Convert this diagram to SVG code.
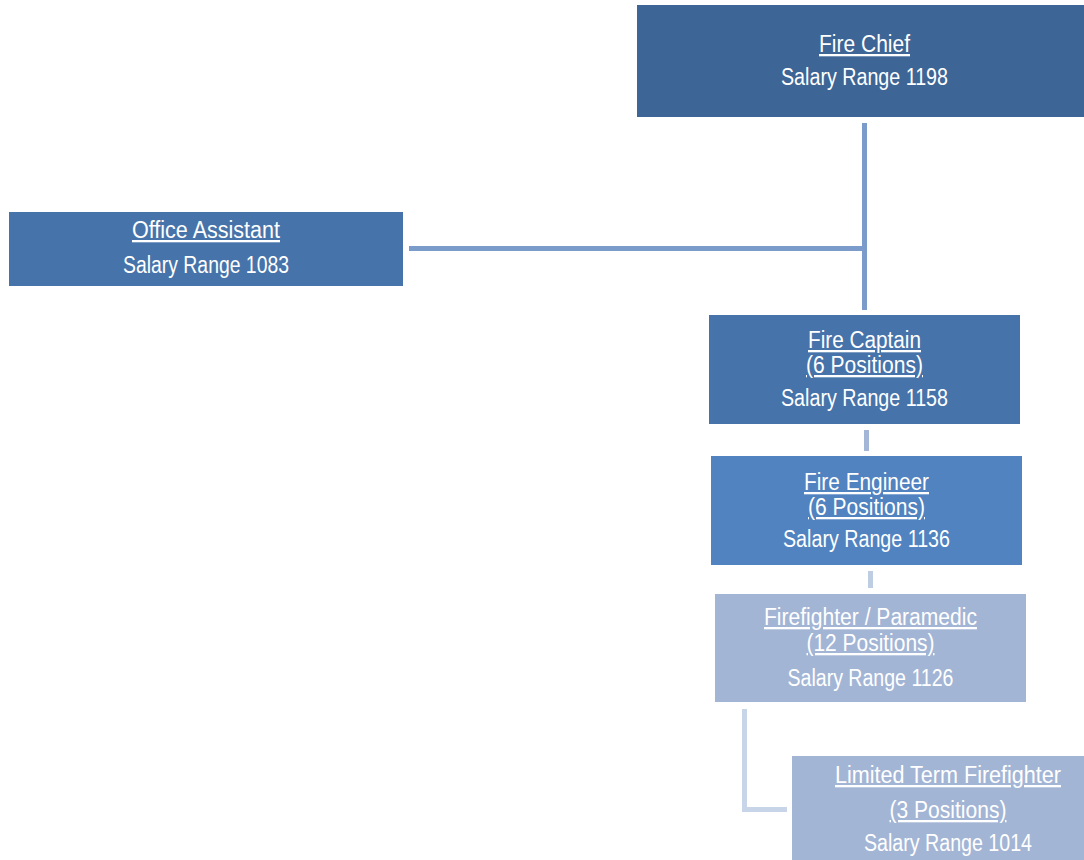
<svg xmlns="http://www.w3.org/2000/svg" width="1084" height="860" viewBox="0 0 1084 860">
<style>
text{font-family:"Liberation Sans",Arial,sans-serif;font-size:23px;fill:#ffffff;text-anchor:middle}
.t{text-decoration:underline}
.c{fill:none;stroke-width:5}
</style>
<rect width="1084" height="860" fill="#ffffff"/>
<g id="connectors">
<path class="c" d="M864.5 123V310M409 248.5H864.5" stroke="#7B9BCB"/>
<path class="c" d="M866.5 430V451" stroke="#A3B6D6"/>
<path class="c" d="M870.5 571V588" stroke="#BFCDE3"/>
<path class="c" d="M744.5 709V809.5H787" stroke="#C8D4E8"/>
</g>
<g id="fire-chief">
<rect x="637" y="5" width="460" height="112" fill="#3D6596"/>
<text class="t" x="864.5" y="52" textLength="91" lengthAdjust="spacingAndGlyphs">Fire Chief</text>
<text x="864.5" y="85" textLength="167" lengthAdjust="spacingAndGlyphs">Salary Range 1198</text>
</g>
<g id="office-assistant">
<rect x="9" y="212" width="394" height="74" fill="#4674AA"/>
<text class="t" x="206" y="238" textLength="148" lengthAdjust="spacingAndGlyphs">Office Assistant</text>
<text x="206" y="273" textLength="166" lengthAdjust="spacingAndGlyphs">Salary Range 1083</text>
</g>
<g id="fire-captain">
<rect x="709" y="315" width="311" height="109" fill="#4673AA"/>
<text class="t" x="864.5" y="348" textLength="113" lengthAdjust="spacingAndGlyphs">Fire Captain</text>
<text class="t" x="864.5" y="373" textLength="117" lengthAdjust="spacingAndGlyphs">(6 Positions)</text>
<text x="864.5" y="406" textLength="167" lengthAdjust="spacingAndGlyphs">Salary Range 1158</text>
</g>
<g id="fire-engineer">
<rect x="711" y="456" width="311" height="109" fill="#5083C0"/>
<text class="t" x="866.5" y="490" textLength="125" lengthAdjust="spacingAndGlyphs">Fire Engineer</text>
<text class="t" x="866.5" y="515" textLength="117" lengthAdjust="spacingAndGlyphs">(6 Positions)</text>
<text x="866.5" y="547" textLength="167" lengthAdjust="spacingAndGlyphs">Salary Range 1136</text>
</g>
<g id="firefighter-paramedic">
<rect x="715" y="594" width="311" height="108" fill="#A3B5D5"/>
<text class="t" x="870.5" y="625" textLength="213" lengthAdjust="spacingAndGlyphs">Firefighter / Paramedic</text>
<text class="t" x="870.5" y="651" textLength="128" lengthAdjust="spacingAndGlyphs">(12 Positions)</text>
<text x="870.5" y="686" textLength="166" lengthAdjust="spacingAndGlyphs">Salary Range 1126</text>
</g>
<g id="limited-term-firefighter">
<rect x="792" y="756" width="320" height="110" fill="#A3B5D5"/>
<text class="t" x="948" y="783" textLength="226" lengthAdjust="spacingAndGlyphs">Limited Term Firefighter</text>
<text class="t" x="948" y="818" textLength="117" lengthAdjust="spacingAndGlyphs">(3 Positions)</text>
<text x="948" y="851" textLength="168" lengthAdjust="spacingAndGlyphs">Salary Range 1014</text>
</g>
</svg>
